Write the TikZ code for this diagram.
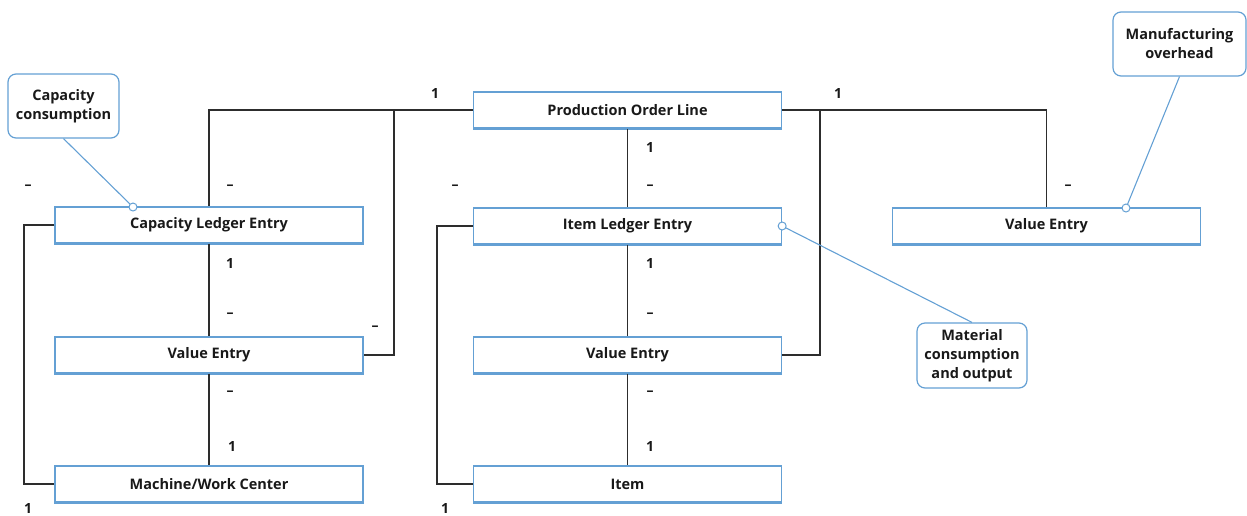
\documentclass[tikz,border=0pt]{standalone}
\usepackage{fontspec}
\setmainfont{Open Sans}
\definecolor{boxblue}{RGB}{100,160,212}
\definecolor{linegray}{RGB}{45,45,45}
\definecolor{txt}{RGB}{25,25,25}
\begin{document}
\begin{tikzpicture}[x=1pt,y=-1pt,
 ent/.style={draw=boxblue, line width=1.3pt, fill=white, minimum width=308pt, minimum height=36pt, inner sep=0pt, font=\bfseries\fontsize{14.5}{17}\selectfont, text=txt},
 note/.style={draw=boxblue, line width=1.2pt, rounded corners=8pt, fill=white, align=center, inner sep=0pt, font=\bfseries\fontsize{14.5}{19}\selectfont, text=txt},
 conn/.style={draw=linegray, line width=1.1pt},
 cline/.style={draw=boxblue, line width=1.1pt},
 lbl/.style={font=\bfseries\fontsize{14}{16}\selectfont, text=txt, inner sep=0pt},
 pinc/.style={circle, draw=boxblue, fill=white, line width=1pt, minimum size=8pt, inner sep=0pt}
]
\useasboundingbox (0,0) rectangle (1247,515);

\coordinate (j1) at (394,110);
\coordinate (j2) at (820,110);
\coordinate (j3) at (24,225);
\coordinate (j4) at (437,226);

\node[ent] (pol) at (627.5,110) {Production Order Line};
\node[ent] (cle) at (209,225) {Capacity Ledger Entry};
\node[ent] (ile) at (627.5,226) {Item Ledger Entry};
\node[ent] (ver) at (1046.5,226) {Value Entry};
\node[ent] (vel) at (209,355) {Value Entry};
\node[ent] (vem) at (627.5,355) {Value Entry};
\node[ent] (mwc) at (209,484) {Machine/Work Center};
\node[ent] (item) at (627.5,484) {Item};
\foreach \n in {pol,cle,ile,ver,vel,vem,mwc,item}
  \draw[boxblue, line width=1.3pt] ([yshift=-0.9pt]\n.south west) -- ([yshift=-0.9pt]\n.south east);

\draw[conn] (pol.west) -| (cle.north);
\draw[conn] (j1) |- (vel.east);
\draw[conn] (pol.east) -| (ver.north);
\draw[conn] (j2) |- (vem.east);
\draw[conn] (pol.south) -- (ile.north);
\draw[conn] (cle.south) -- (vel.north);
\draw[conn] (vel.south) -- (mwc.north);
\draw[conn] (ile.south) -- (vem.north);
\draw[conn] (vem.south) -- (item.north);
\draw[conn] (cle.west) -- (j3) |- (mwc.west);
\draw[conn] (ile.west) -- (j4) |- (item.west);

% multiplicity labels
\node[lbl] at (435,93) {1};
\node[lbl] at (838,93) {1};
\node[lbl] at (650,147) {1};
\node[lbl] at (650,187) {–};
\node[lbl] at (230,187) {–};
\node[lbl] at (28,187) {–};
\node[lbl] at (455,187) {–};
\node[lbl] at (1068,187) {–};
\node[lbl] at (375,328) {–};
\node[lbl] at (230,263) {1};
\node[lbl] at (230,315) {–};
\node[lbl] at (650,263) {1};
\node[lbl] at (650,315) {–};
\node[lbl] at (230,393) {–};
\node[lbl] at (232,446) {1};
\node[lbl] at (650,393) {–};
\node[lbl] at (650,446) {1};
\node[lbl] at (28,508) {1};
\node[lbl] at (445,508) {1};

% callouts
\node[note, minimum width=111pt, minimum height=64pt] (n1) at (63.5,106) {Capacity\\consumption};
\node[note, minimum width=133pt, minimum height=64pt] (n2) at (1179.5,44) {Manufacturing\\overhead};
\node[note, minimum width=110pt, minimum height=65pt] (n3) at (972,355.5) {Material\\consumption\\and output};
\coordinate (p1) at (133,207);
\coordinate (p2) at (1126,208);
\draw[cline] (n1.south) -- (p1);
\draw[cline] (n2.south) -- (p2);
\draw[cline] (ile.east) -- (n3.north);
\node[pinc] at (p1) {};
\node[pinc] at (p2) {};
\node[pinc] at (ile.east) {};
\end{tikzpicture}
\end{document}
